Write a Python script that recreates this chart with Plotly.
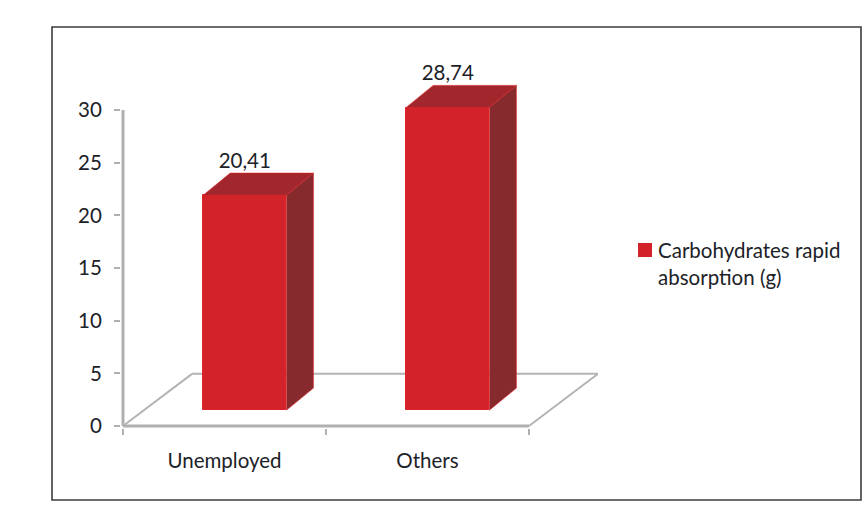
import plotly.graph_objects as go

# Chart data
categories = ["Unemployed", "Others"]
values = [20.41, 28.74]
value_labels = ["20,41", "28,74"]
series_name = "Carbohydrates rapid<br>absorption (g)"
y_ticks = [0, 5, 10, 15, 20, 25, 30]

# Category slots sit at 0.5 and 1.5 on a numeric x axis
centers = [0.5, 1.5]

# Oblique projection of the pseudo-3D box
FLOOR_DX, FLOOR_DY = 0.34, 4.95      # full depth of the floor
BAR_SHIFT_X, BAR_BASE = 0.1, 1.5     # bars stand part-way back on the floor
BAR_DX, BAR_DY = 0.133, 2.1          # depth of each bar
BAR_WIDTH = 0.41
X_END, Y_TOP = 2.0, 30

FRONT, TOP, SIDE, EDGE = "#d2232a", "#a1272d", "#862a2e", "#dd2329"
AXIS = "#b0b0b0"
FLOOR = "#b4b4b4"
TEXT = "#1c2228"
FONT = "Lato"
FONT_SIZE = 20.5

# Plot area, in page pixels
PLOT_LEFT, PLOT_RIGHT, PLOT_TOP, PLOT_BOTTOM = 121, 598, 70, 428


def paper_x(px):
    return (px - PLOT_LEFT) / (PLOT_RIGHT - PLOT_LEFT)


def paper_y(px):
    return (PLOT_BOTTOM - px) / (PLOT_BOTTOM - PLOT_TOP)


fig = go.Figure()

fig.add_bar(
    x=[c + BAR_SHIFT_X for c in centers], y=values, base=BAR_BASE, width=BAR_WIDTH,
    marker=dict(color=FRONT, line=dict(color=EDGE, width=1)),
    name=series_name.replace("<br>", " "), showlegend=False,
)

for c, v, label in zip(centers, values, value_labels):
    x0 = c + BAR_SHIFT_X - BAR_WIDTH / 2
    x1 = c + BAR_SHIFT_X + BAR_WIDTH / 2
    y0 = BAR_BASE
    y1 = BAR_BASE + v
    # top face
    fig.add_scatter(
        x=[x0, x1, x1 + BAR_DX, x0 + BAR_DX, x0],
        y=[y1, y1, y1 + BAR_DY, y1 + BAR_DY, y1],
        mode="lines", fill="toself", fillcolor=TOP,
        line=dict(color=EDGE, width=0.6), showlegend=False, hoverinfo="skip",
    )
    # side face
    fig.add_scatter(
        x=[x1, x1 + BAR_DX, x1 + BAR_DX, x1, x1],
        y=[y0, y0 + BAR_DY, y1 + BAR_DY, y1, y0],
        mode="lines", fill="toself", fillcolor=SIDE,
        line=dict(color=EDGE, width=0.6), showlegend=False, hoverinfo="skip",
    )
    # value label
    fig.add_scatter(
        x=[c + BAR_SHIFT_X], y=[y1 + BAR_DY], mode="text", text=[label],
        textposition="top center", textfont=dict(family=FONT, size=FONT_SIZE, color=TEXT),
        showlegend=False, hoverinfo="skip", cliponaxis=False,
    )

# Floor outline and vertical axis line, kept behind the bars
floor_lines = [
    (0, 0, X_END, 0, 3, AXIS),
    (0, 0, FLOOR_DX, FLOOR_DY, 2, FLOOR),
    (FLOOR_DX, FLOOR_DY, X_END + FLOOR_DX, FLOOR_DY, 2, FLOOR),
    (X_END, 0, X_END + FLOOR_DX, FLOOR_DY, 2, FLOOR),
    (0, 0, 0, Y_TOP, 3, AXIS),
]
shapes = [
    dict(type="line", xref="x", yref="y", x0=a, y0=b, x1=c, y1=d, layer="below",
         line=dict(color=col, width=w))
    for a, b, c, d, w, col in floor_lines
]
# Frame around the whole chart
shapes.append(dict(
    type="rect", xref="paper", yref="paper",
    x0=paper_x(52), x1=paper_x(861), y0=paper_y(500), y1=paper_y(27),
    line=dict(color="#3c3c3c", width=1.6), layer="below",
))
# Legend swatch beside the first line of the series name
shapes.append(dict(
    type="rect", xref="paper", yref="paper",
    x0=paper_x(638), x1=paper_x(652), y0=paper_y(257), y1=paper_y(243),
    fillcolor=FRONT, line=dict(width=0),
))

fig.update_layout(
    width=863, height=513,
    margin=dict(l=PLOT_LEFT, r=863 - PLOT_RIGHT, t=PLOT_TOP, b=513 - PLOT_BOTTOM),
    paper_bgcolor="white", plot_bgcolor="white",
    shapes=shapes,
    font=dict(family=FONT, size=FONT_SIZE, color=TEXT),
    bargap=0,
    showlegend=False,
    annotations=[dict(
        text=series_name, xref="paper", yref="paper",
        x=paper_x(657), y=paper_y(237),
        xanchor="left", yanchor="top", align="left", showarrow=False,
        borderpad=0, font=dict(family=FONT, size=FONT_SIZE, color=TEXT),
    )],
    xaxis=dict(
        range=[-0.00985, 2.34], showgrid=False, zeroline=False, showline=False,
        tickmode="array", tickvals=centers, ticktext=categories,
        ticks="outside", ticklen=14, tickcolor="rgba(0,0,0,0)",
        minor=dict(dtick=1, tick0=0, ticks="outside", ticklen=6,
                   tickcolor=AXIS, tickwidth=2, showgrid=False),
    ),
    yaxis=dict(
        range=[-0.19, 33.8], showgrid=False, zeroline=False, showline=False,
        tickmode="array", tickvals=y_ticks,
        ticks="outside", ticklen=6, tickcolor=AXIS, tickwidth=2,
        ticklabelstandoff=8,
    ),
)

fig.write_html("out.html")
